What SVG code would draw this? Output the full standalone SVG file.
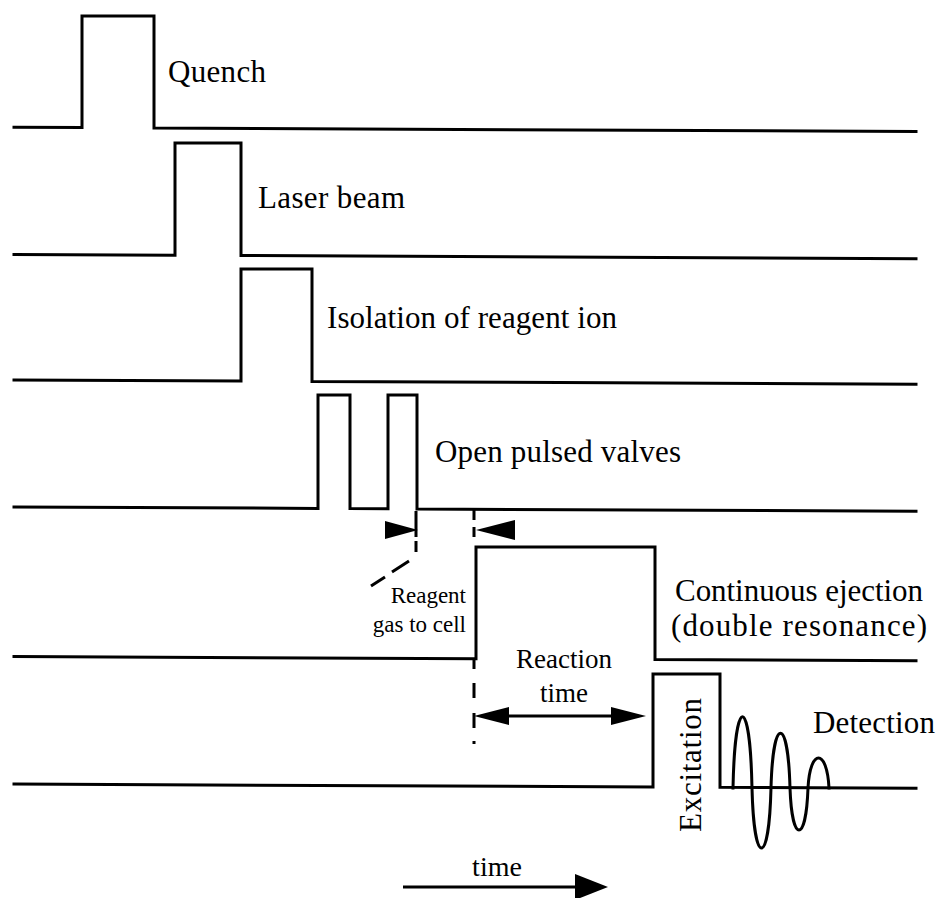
<svg xmlns="http://www.w3.org/2000/svg" width="939" height="898" viewBox="0 0 939 898">
<style>
.tr{fill:none;stroke:#000;stroke-width:3;stroke-linejoin:miter;stroke-linecap:square}
.cn{fill:none;stroke:#000;stroke-width:3}
.hd{fill:#000;stroke:none}
</style>
<rect width="939" height="898" fill="#fff"/>
<g id="quench">
<polyline class="tr" points="14,127.3 82,127.6 82,16 154,16 154,128 916,131.5"/>
<text font-family="Liberation Serif" font-size="31" x="168" y="82" textLength="98">Quench</text>
</g>
<g id="laser-beam">
<polyline class="tr" points="14,254.5 175,255.2 175,143 241,143 241,255.5 916,258.7"/>
<text font-family="Liberation Serif" font-size="31" x="258" y="208" textLength="147">Laser beam</text>
</g>
<g id="isolation">
<polyline class="tr" points="14,380 241,381 241,269 312,269 312,381.4 916,384.2"/>
<text font-family="Liberation Serif" font-size="31" x="327" y="328" textLength="290">Isolation of reagent ion</text>
</g>
<g id="pulsed-valves">
<polyline class="tr" points="14,507 318,508.4 318,395 350,395 350,508.6 388,508.8 388,395 417,395 417,509 916,511.3"/>
<text font-family="Liberation Serif" font-size="31" x="435" y="462" textLength="246">Open pulsed valves</text>
</g>
<g id="continuous-ejection">
<polyline class="tr" points="14,656.5 476,658.7 476,547 655,547 655,659.5 916,660.7"/>
<text font-family="Liberation Serif" font-size="31" x="675" y="601" textLength="248">Continuous ejection</text>
<text font-family="Liberation Serif" font-size="31" x="671" y="636" textLength="256">(double resonance)</text>
</g>
<g id="excitation-detection">
<polyline class="tr" points="14,784 653,787 653,674 720,674 720,787.3 916,788.2"/>
<text font-family="Liberation Serif" font-size="31" transform="translate(701 765) rotate(-90)" text-anchor="middle" textLength="134">Excitation</text>
<path class="tr" d="M733,788 C735,693 750,693 752,788 C754,868 769,868 771,788 C773,715 788,715 790,788 C792,844 806,844 808,788 C810,748 827,748 829,788"/>
<text font-family="Liberation Serif" font-size="31" x="813" y="733" textLength="122">Detection</text>
</g>
<g id="reagent-gas">
<text font-family="Liberation Serif" font-size="23" x="466" y="603" text-anchor="end">Reagent</text>
<text font-family="Liberation Serif" font-size="23" x="466" y="632" text-anchor="end">gas to cell</text>
</g>
<g id="reaction-time">
<text font-family="Liberation Serif" font-size="27" x="564" y="668" text-anchor="middle">Reaction</text>
<text font-family="Liberation Serif" font-size="27" x="564" y="702" text-anchor="middle">time</text>
</g>
<g id="time-axis">
<text font-family="Liberation Serif" font-size="28" x="497" y="876" text-anchor="middle">time</text>
</g>
<g id="connectors">
<path class="cn" d="M416,511 V537 M416,541 V552"/>
<path class="cn" d="M371,586 L385,577 M392,572 L409,561"/>
<path class="cn" d="M474,509 V520 M474,527 V537 M474,659 V669 M474,683 V698 M474,713 V728 M474,741 V744"/>
<polygon class="hd" points="385,521 418,530 385,539"/>
<polygon class="hd" points="515,520 476,530 515,540"/>
<line class="cn" x1="505" y1="716" x2="615" y2="716"/>
<polygon class="hd" points="474,716 509,707 509,725"/>
<polygon class="hd" points="646,716 611,707 611,725"/>
<line class="cn" x1="403" y1="887" x2="580" y2="887"/>
<polygon class="hd" points="575,874 608,887 575,900"/>
</g>
</svg>
